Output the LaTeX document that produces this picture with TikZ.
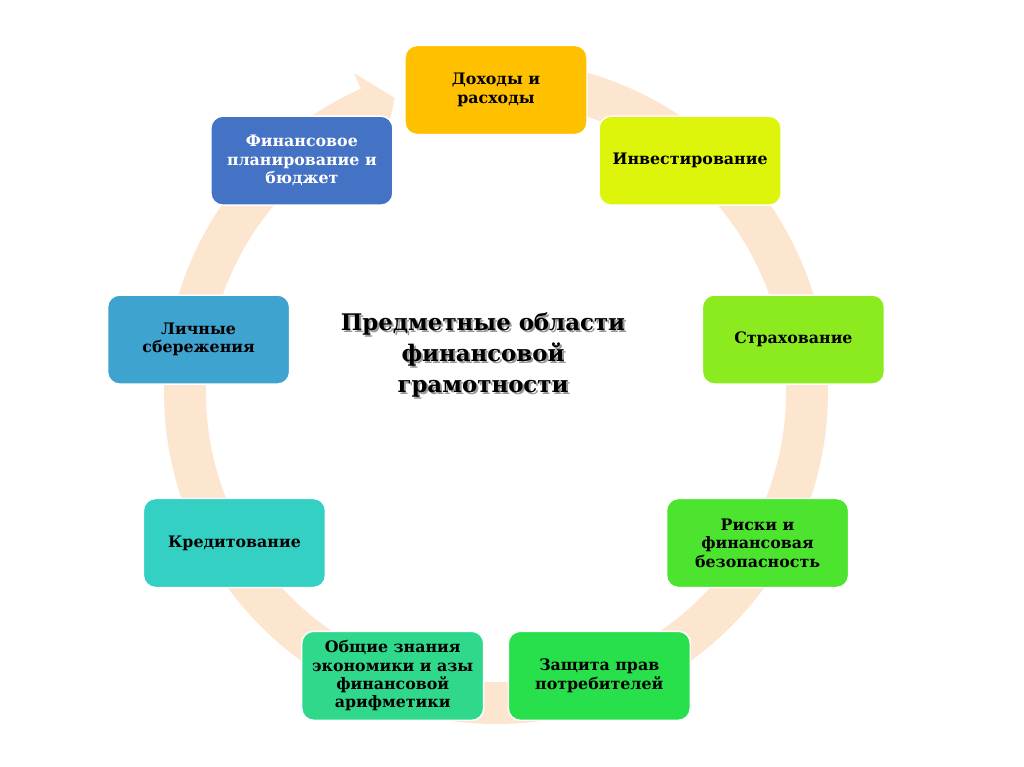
\documentclass[tikz,border=0pt]{standalone}
\usepackage{fontspec}
\setmainfont{DejaVu Serif}
\usepackage{xcolor}
\usetikzlibrary{positioning}

\definecolor{ringpeach}{HTML}{FDE6D0}
\definecolor{boxorange}{HTML}{FFC000}
\definecolor{boxlime}{HTML}{DDF50A}
\definecolor{boxlight}{HTML}{8CEB1E}
\definecolor{boxgreen}{HTML}{4CE42E}
\definecolor{boxgrass}{HTML}{27E04C}
\definecolor{boxmint}{HTML}{30D88C}
\definecolor{boxteal}{HTML}{33D0C3}
\definecolor{boxsteel}{HTML}{3FA3CF}
\definecolor{boxblue}{HTML}{4472C4}

\tikzset{
  area/.style={draw=white, line width=0.8pt, rounded corners=0.24cm,
    minimum width=3.64cm, minimum height=1.78cm, align=center,
    font=\fontsize{9}{10.5}\selectfont\bfseries},
  heading/.style={align=center, font=\fontsize{13}{17.6}\selectfont\bfseries}
}

\begin{document}
\begin{tikzpicture}[x=0.02cm, y=0.02cm]
  \useasboundingbox (-496,-375) rectangle (528,392);

  % Ring
  \fill[ringpeach] (88:332) arc[start angle=88, end angle=-246, radius=332]
    -- (114:349) -- (109:311) -- (114:273) -- (114:290)
    arc[start angle=-246, end angle=88, radius=290] -- cycle;

  % Areas
  \foreach \ang/\clr/\tc/\txt [count=\i] in {
      90/boxorange/black/{Доходы и\\расходы},
      50/boxlime/black/{Инвестирование},
      10/boxlight/black/{Страхование},
      -30/boxgreen/black/{Риски и\\финансовая\\безопасность},
      -70/boxgrass/black/{Защита прав\\потребителей},
      -110/boxmint/black/{Общие знания\\экономики и азы\\финансовой\\арифметики},
      -150/boxteal/black/{Кредитование},
      170/boxsteel/black/{Личные\\сбережения},
      130/boxblue/white/{Финансовое\\планирование и\\бюджет}} {
    \node[area, fill=\clr, text=\tc] (box\i) at (\ang:302) {\txt};
  }

  % Title
  \node[heading, text=black!40] (titleshadow) at (-11,35)
    {Предметные области\\финансовой\\грамотности};
  \node[heading] (title) at (-13,37)
    {Предметные области\\финансовой\\грамотности};
\end{tikzpicture}
\end{document}
